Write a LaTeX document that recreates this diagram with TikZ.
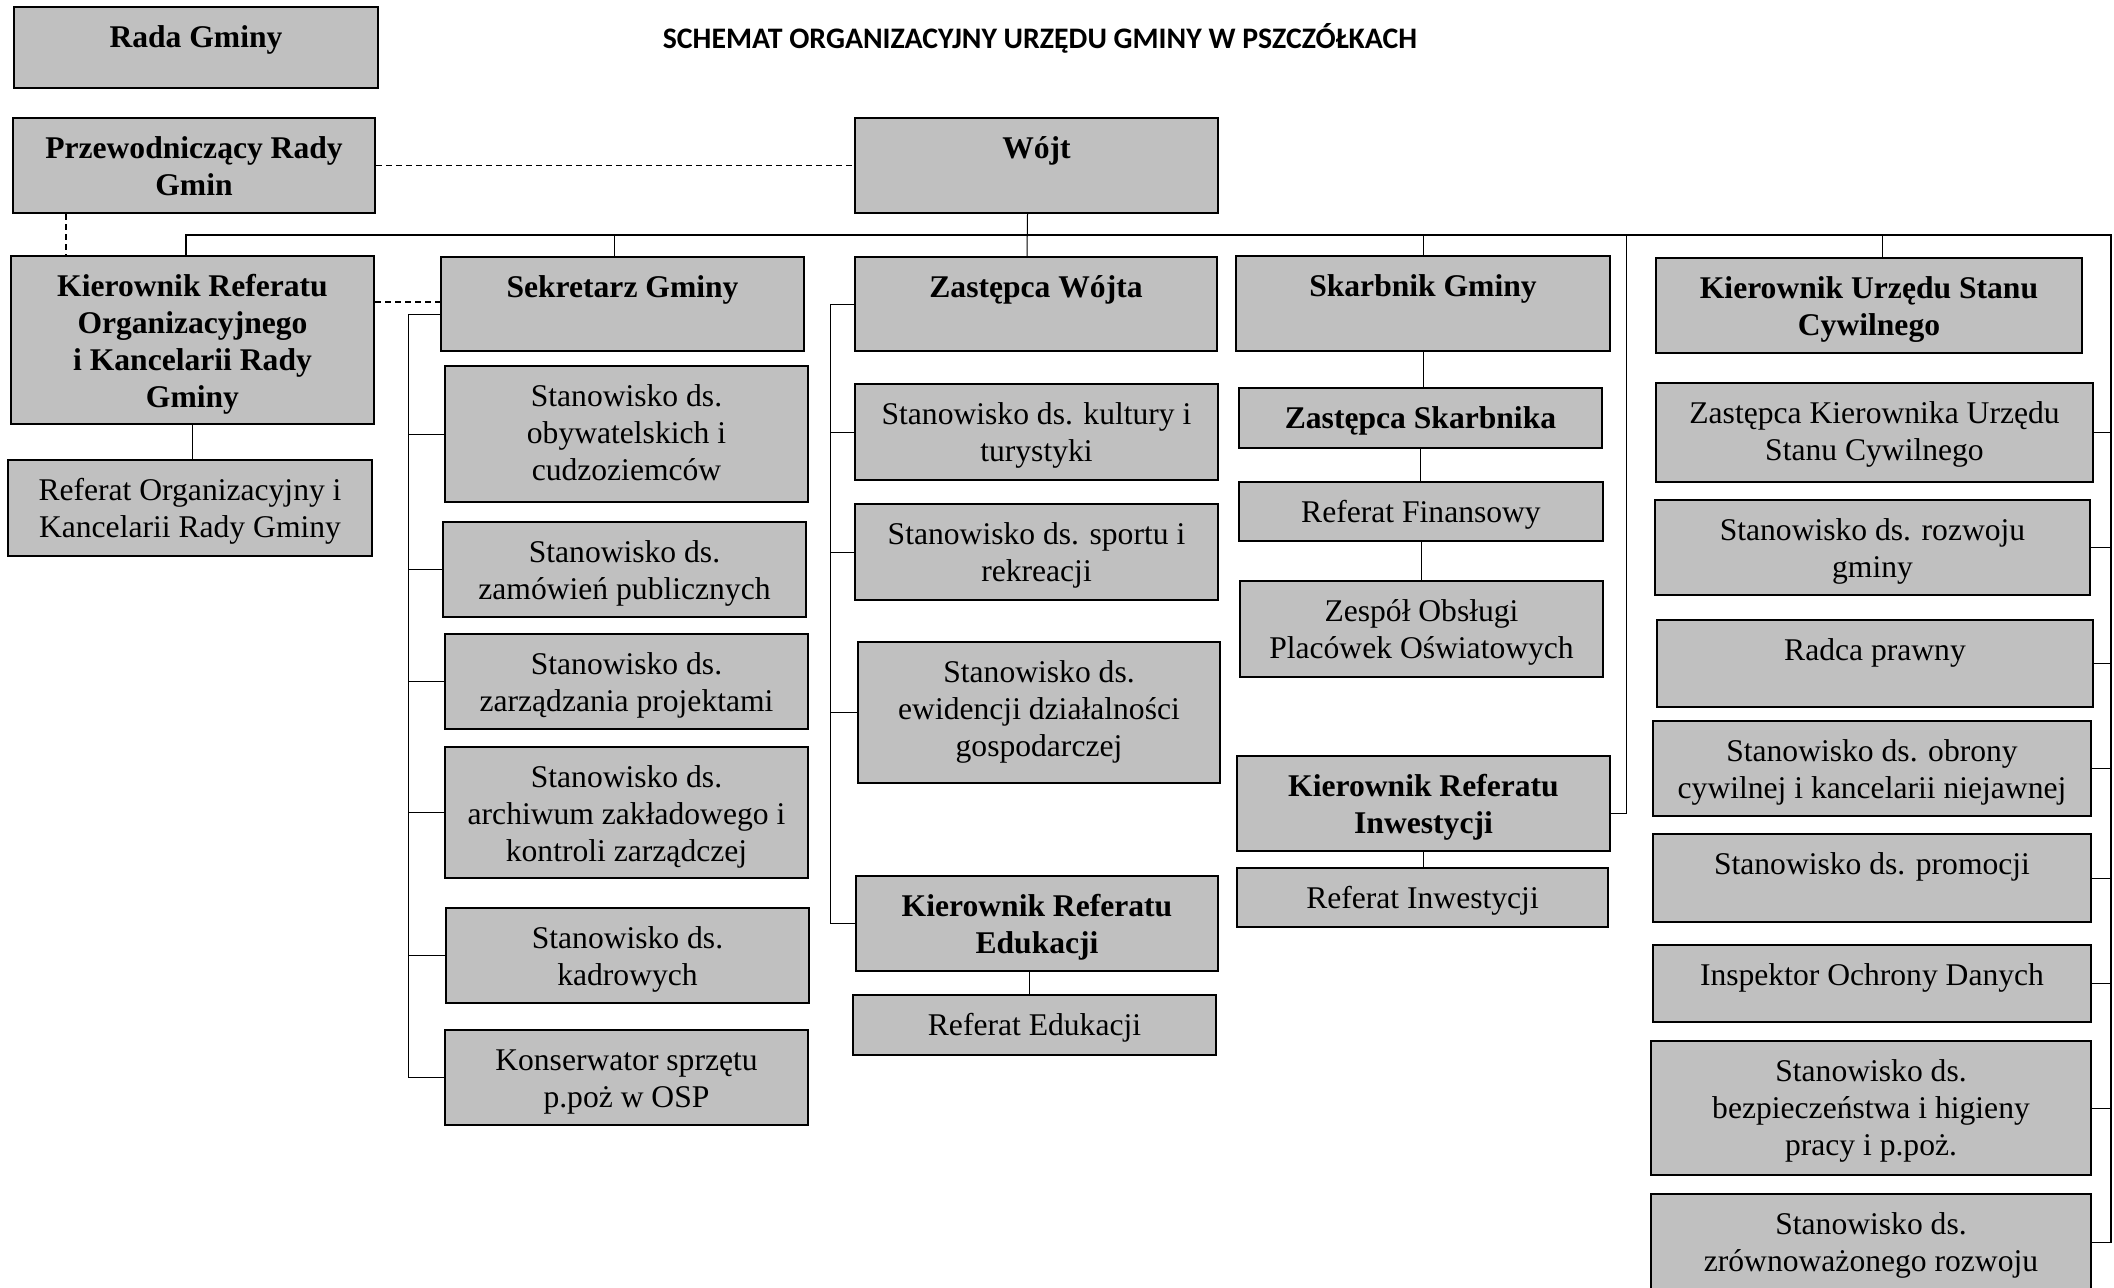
\documentclass[tikz,border=0pt]{standalone}
\usepackage{fontspec}
\usetikzlibrary{calc}
\setmainfont{Liberation Serif}
\newfontfamily\titlefont{Carlito}
\definecolor{boxgray}{HTML}{C0C0C0}
\tikzset{
  orgbox/.style={draw, line width=1pt, fill=boxgray, inner sep=0pt, anchor=north west, font=\fontsize{15.8}{18.35}\selectfont},
  link/.style={line width=0.5pt},
  buslink/.style={line width=0.7pt},
  dashlink/.style={line width=0.6pt, dash pattern=on 3pt off 2pt}
}
\newcommand{\posbox}[6]{\node[orgbox] (#1) at (#2,#3) {\parbox[t][\dimexpr(#5pt-#3pt)/2\relax][t]{\dimexpr(#4pt-#2pt)/2\relax}{\centering\vspace*{7.6pt}\strut#6}};}
\begin{document}
\begin{tikzpicture}[x=0.5pt,y=-0.5pt]
\useasboundingbox (0,0) rectangle (2114,1287); \clip (0,0) rectangle (2114,1287);
\node[font=\titlefont\bfseries\fontsize{14.9}{18}\selectfont, anchor=base] (title) at (1040,48) {SCHEMAT ORGANIZACYJNY URZĘDU GMINY W PSZCZÓŁKACH};
\posbox{rada}{13}{6}{377}{87}{\bfseries Rada Gminy}
\posbox{przew}{12}{117}{374}{212}{\bfseries Przewodniczący Rady\\Gmin}
\posbox{wojt}{854}{117}{1217}{212}{\bfseries Wójt}
\posbox{kier}{10}{255}{373}{423}{\bfseries Kierownik Referatu\\Organizacyjnego\\i Kancelarii Rady\\Gminy}
\posbox{reforg}{7}{459}{371}{555}{Referat Organizacyjny i\\Kancelarii Rady Gminy}
\posbox{sek}{440}{256}{803}{350}{\bfseries Sekretarz Gminy}
\posbox{obyw}{444}{365}{807}{501}{Stanowisko ds.\\obywatelskich i\\cudzoziemców}
\posbox{zam}{442}{521}{805}{616}{Stanowisko ds.\\zamówień publicznych}
\posbox{zarz}{444}{633}{807}{728}{Stanowisko ds.\\zarządzania projektami}
\posbox{arch}{444}{746}{807}{877}{Stanowisko ds.\\archiwum zakładowego i\\kontroli zarządczej}
\posbox{kadr}{445}{907}{808}{1002}{Stanowisko ds.\\kadrowych}
\posbox{kons}{444}{1029}{807}{1124}{Konserwator sprzętu\\p.poż w OSP}
\posbox{zw}{854}{256}{1216}{350}{\bfseries Zastępca Wójta}
\posbox{kul}{854}{383}{1217}{479}{Stanowisko ds. kultury i\\turystyki}
\posbox{spo}{854}{503}{1217}{599}{Stanowisko ds. sportu i\\rekreacji}
\posbox{ewi}{857}{641}{1219}{782}{Stanowisko ds.\\ewidencji działalności\\gospodarczej}
\posbox{kedu}{855}{875}{1217}{970}{\bfseries Kierownik Referatu\\Edukacji}
\posbox{redu}{852}{994}{1215}{1054}{Referat Edukacji}
\posbox{skarb}{1235}{255}{1609}{350}{\bfseries Skarbnik Gminy}
\posbox{zskarb}{1238}{387}{1601}{447}{\bfseries Zastępca Skarbnika}
\posbox{rfin}{1238}{481}{1602}{540}{Referat Finansowy}
\posbox{zesp}{1239}{580}{1602}{676}{Zespół Obsługi\\Placówek Oświatowych}
\posbox{kinw}{1236}{755}{1609}{850}{\bfseries Kierownik Referatu\\Inwestycji}
\posbox{rinw}{1236}{867}{1607}{926}{Referat Inwestycji}
\posbox{usc}{1655}{257}{2081}{352}{\bfseries Kierownik Urzędu Stanu\\Cywilnego}
\posbox{zusc}{1655}{382}{2092}{481}{Zastępca Kierownika Urzędu\\Stanu Cywilnego}
\posbox{rozw}{1654}{499}{2089}{594}{Stanowisko ds. rozwoju\\gminy}
\posbox{radca}{1656}{619}{2092}{706}{Radca prawny}
\posbox{obr}{1652}{720}{2090}{815}{Stanowisko ds. obrony\\cywilnej i kancelarii niejawnej}
\posbox{prom}{1652}{833}{2090}{921}{Stanowisko ds. promocji}
\posbox{insp}{1652}{944}{2090}{1021}{Inspektor Ochrony Danych}
\posbox{bhp}{1650}{1040}{2090}{1174}{Stanowisko ds.\\bezpieczeństwa i higieny\\pracy i p.poż.}
\posbox{zrow}{1650}{1193}{2090}{1290}{Stanowisko ds.\\zrównoważonego rozwoju}
\coordinate (bl) at (186,235); \coordinate (br) at (2111,235); \coordinate (ib) at (1626,235);
\coordinate (sb) at (408,0); \coordinate (zb) at (830,0); \coordinate (dx) at (66,0);
\draw[dashlink] (przew.east) -- (przew.east -| wojt.west);
\draw[dashlink] (przew.south -| dx) -- (kier.north -| dx);
\draw[dashlink] ($(sek.west -| kier.east)+(0,-2)$) -- ($(sek.west)+(0,-2)$);
\draw[buslink] (kier.north -| bl) -- (bl) -- (br) -- (br |- zrow.east);
\draw[link] ($(wojt.south)+(-9,0)$) -- ($(zw.north)+(-9,0)$);
\draw[link] ($(sek.north)+(-8,0)$) -- ($(sek.north |- bl)+(-8,0)$); \draw[link] (skarb.north) -- (skarb.north |- bl);
\draw[link] ($(usc.north)+(13,0)$) -- ($(usc.north |- bl)+(13,0)$);
\draw[link] ($(kinw.east)+(0,10)$) -| (ib);
\draw[link] (kier.south) -- (kier.south |- reforg.north);
\draw[link] (skarb.south) -- (skarb.south |- zskarb.north); \draw[link] (zskarb.south) -- (zskarb.south |- rfin.north);
\draw[link] (rfin.south) -- (rfin.south |- zesp.north); \draw[link] (kinw.south) -- (kinw.south |- rinw.north);
\draw[link] ($(kedu.south)+(-8,0)$) -- ($(kedu.south |- redu.north)+(-8,0)$);
\draw[link] ($(sek.west)+(0,10)$) -| (sb |- kons.west) -- (kons.west);
\foreach \n in {obyw,zam,zarz,arch,kadr} \draw[link] (\n.west) -- (\n.west -| sb);
\draw[link] (zw.west) -| (zb |- kedu.west) -- (kedu.west);
\foreach \n in {kul,spo,ewi} \draw[link] (\n.west) -- (\n.west -| zb);
\foreach \n in {zusc,rozw,radca,obr,prom,insp,bhp,zrow} \draw[link] (\n.east) -- (\n.east -| br);
\end{tikzpicture}
\end{document}
